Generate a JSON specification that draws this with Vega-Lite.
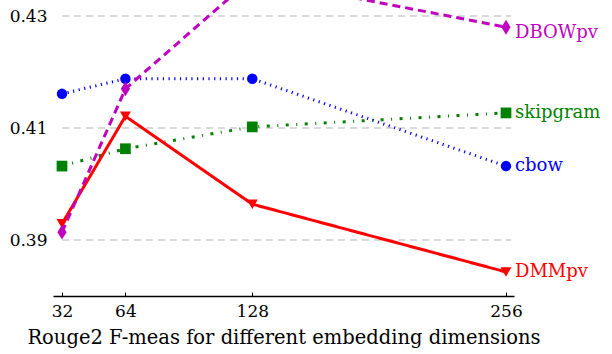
{
  "$schema": "https://vega.github.io/schema/vega-lite/v6.json",
  "width": 461,
  "height": 296,
  "autosize": {"type": "none"},
  "padding": {"left": 53, "top": 0, "right": 98, "bottom": 58},
  "background": "white",
  "config": {
    "view": {"stroke": null},
    "font": "DejaVu Serif"
  },
  "datasets": {
    "series": [
      {"method": "cbow", "dim": 32, "score": 0.4161},
      {"method": "cbow", "dim": 64, "score": 0.4188},
      {"method": "cbow", "dim": 128, "score": 0.4188},
      {"method": "cbow", "dim": 256, "score": 0.4032},
      {"method": "skipgram", "dim": 32, "score": 0.4032},
      {"method": "skipgram", "dim": 64, "score": 0.4063},
      {"method": "skipgram", "dim": 128, "score": 0.4102},
      {"method": "skipgram", "dim": 256, "score": 0.4127},
      {"method": "DMMpv", "dim": 32, "score": 0.3929},
      {"method": "DMMpv", "dim": 64, "score": 0.4121},
      {"method": "DMMpv", "dim": 128, "score": 0.3964},
      {"method": "DMMpv", "dim": 256, "score": 0.3843},
      {"method": "DBOWpv", "dim": 32, "score": 0.3914},
      {"method": "DBOWpv", "dim": 64, "score": 0.4170},
      {"method": "DBOWpv", "dim": 128, "score": 0.4368},
      {"method": "DBOWpv", "dim": 256, "score": 0.4280}
    ],
    "grid": [{"level": 0.39}, {"level": 0.41}, {"level": 0.43}]
  },
  "layer": [
    {
      "data": {"name": "grid"},
      "mark": {"type": "rule", "color": "#b3b3b3", "strokeWidth": 1, "strokeDash": [7, 5]},
      "encoding": {
        "y": {"field": "level", "type": "quantitative", "scale": {"domain": [0.38, 0.43286], "nice": false, "zero": false},
          "axis": {"values": [0.39, 0.41, 0.43], "format": ".2f", "domain": false, "ticks": false, "grid": false,
            "labelFontSize": 17, "labelColor": "black", "labelPadding": 6, "title": null, "labelFont": "DejaVu Serif"}},
        "x": {"datum": 32, "type": "quantitative"},
        "x2": {"datum": 258.5}
      }
    },
    {
      "data": {"name": "series"},
      "mark": {"type": "line", "clip": true},
      "encoding": {
        "x": {"field": "dim", "type": "quantitative", "scale": {"domain": [27.46, 260.04], "nice": false, "zero": false},
          "axis": {"values": [32, 64, 128, 256], "grid": false, "domainColor": "black", "domainWidth": 1.3,
            "tickColor": "black", "tickSize": -4, "tickWidth": 1, "labelFontSize": 17, "labelColor": "black",
            "labelPadding": 11, "labelFont": "DejaVu Serif",
            "title": "Rouge2 F-meas for different embedding dimensions", "titleFont": "DejaVu Serif",
            "titleFontSize": 19.5, "titleFontWeight": "normal", "titleColor": "black", "titlePadding": 9}},
        "y": {"field": "score", "type": "quantitative"},
        "color": {"field": "method", "type": "nominal", "legend": null,
          "scale": {"domain": ["cbow", "skipgram", "DMMpv", "DBOWpv"], "range": ["#0000ff", "#008000", "#ff0000", "#bf00bf"]}},
        "strokeDash": {"field": "method", "type": "nominal", "legend": null,
          "scale": {"domain": ["cbow", "skipgram", "DMMpv", "DBOWpv"], "range": [[1.2, 4.5], [3, 7.5, 1, 7.5], [1, 0], [8, 5]]}},
        "strokeWidth": {"field": "method", "type": "nominal", "legend": null,
          "scale": {"domain": ["cbow", "skipgram", "DMMpv", "DBOWpv"], "range": [3, 3, 3.4, 4]}}
      }
    },
    {
      "data": {"name": "series"},
      "transform": [{"filter": "datum.method != 'DBOWpv'"}],
      "mark": {"type": "point", "filled": true, "opacity": 1, "clip": true},
      "encoding": {
        "x": {"field": "dim", "type": "quantitative"},
        "y": {"field": "score", "type": "quantitative"},
        "color": {"field": "method", "type": "nominal", "legend": null},
        "shape": {"field": "method", "type": "nominal", "legend": null,
          "scale": {"domain": ["cbow", "skipgram", "DMMpv"], "range": ["circle", "square", "triangle-down"]}},
        "size": {"field": "method", "type": "nominal", "legend": null,
          "scale": {"domain": ["cbow", "skipgram", "DMMpv"], "range": [110, 120, 160]}}
      }
    },
    {
      "data": {"name": "series"},
      "transform": [{"filter": "datum.method == 'DBOWpv'"}],
      "mark": {"type": "point", "filled": true, "opacity": 1, "clip": true, "shape": "M0,-1L0.62,0L0,1L-0.62,0Z", "size": 220, "color": "#bf00bf"},
      "encoding": {
        "x": {"field": "dim", "type": "quantitative"},
        "y": {"field": "score", "type": "quantitative"}
      }
    },
    {
      "data": {"name": "series"},
      "transform": [{"filter": "datum.dim == 256 && datum.method != 'DBOWpv'"}],
      "mark": {"type": "text", "align": "left", "baseline": "middle", "dx": 9, "fontSize": 18, "font": "DejaVu Serif"},
      "encoding": {
        "x": {"field": "dim", "type": "quantitative"},
        "y": {"field": "score", "type": "quantitative"},
        "text": {"field": "method"},
        "color": {"field": "method", "type": "nominal", "legend": null}
      }
    },
    {
      "data": {"name": "series"},
      "transform": [{"filter": "datum.dim == 256 && datum.method == 'DBOWpv'"}],
      "mark": {"type": "text", "align": "left", "baseline": "middle", "dx": 9, "dy": 6, "fontSize": 18, "font": "DejaVu Serif"},
      "encoding": {
        "x": {"field": "dim", "type": "quantitative"},
        "y": {"field": "score", "type": "quantitative"},
        "text": {"field": "method"},
        "color": {"field": "method", "type": "nominal", "legend": null}
      }
    }
  ]
}
